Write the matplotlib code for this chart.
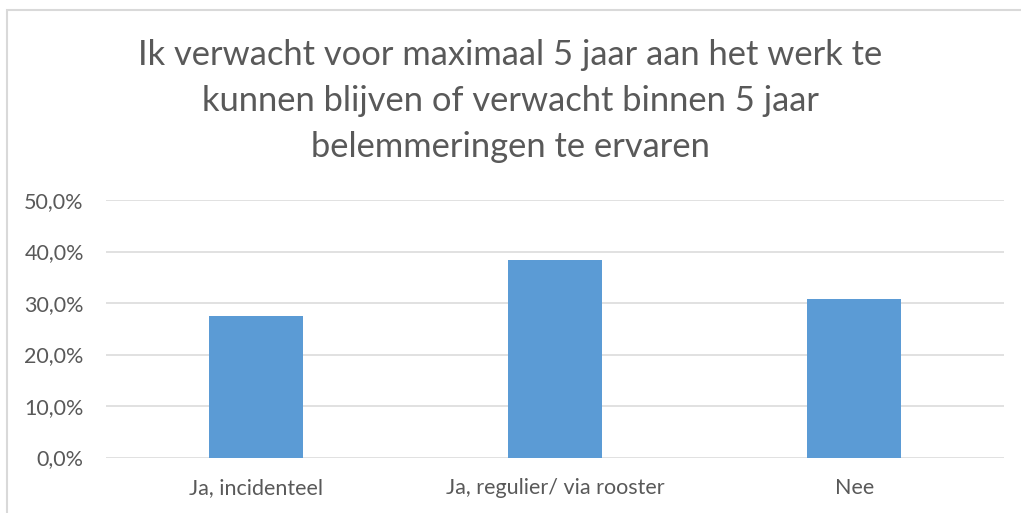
import matplotlib.pyplot as plt
from matplotlib.patches import Rectangle
from matplotlib.ticker import FuncFormatter

categories = ["Ja, incidenteel", "Ja, regulier/ via rooster", "Nee"]
values = [0.274, 0.383, 0.307]
yticks = [0.0, 0.1, 0.2, 0.3, 0.4, 0.5]
title = ("Ik verwacht voor maximaal 5 jaar aan het werk te\n"
         "kunnen blijven of verwacht binnen 5 jaar\n"
         "belemmeringen te ervaren")

plt.rcParams['font.family'] = ['Lato', 'DejaVu Sans']

W, H = 1021, 513
fig = plt.figure(figsize=(W / 100, H / 100), dpi=100)

# chart border (left and top visible)
fig.patches.append(Rectangle((7 / W, -0.1), 1.2, 1 - 10 / H + 0.1, transform=fig.transFigure,
                             fill=False, edgecolor='#D9D9D9', linewidth=1.5))

ax = fig.add_axes([106 / W, 1 - 457.5 / H, (1004 - 106) / W, (457.5 - 200) / H])
x = range(len(categories))
ax.bar(x, values, width=0.315, color='#5B9BD5', zorder=3)
ax.set_xlim(-0.5, len(categories) - 0.5)
ax.set_ylim(0, 0.5)
ax.set_yticks(yticks)
ax.yaxis.set_major_formatter(FuncFormatter(lambda v, p: f"{v * 100:.1f}%".replace('.', ',')))
ax.set_xticks(list(x))
ax.set_xticklabels(categories)
ax.grid(axis='y', color='#D9D9D9', linewidth=1.1, zorder=0)
for s in ax.spines.values():
    s.set_visible(False)
ax.tick_params(length=0, labelsize=15.5, colors='#595959')
ax.tick_params(axis='y', pad=16)
ax.tick_params(axis='x', pad=15)

fig.text(0.5, 1 - 101 / H, title, ha='center', va='center', fontsize=24.8,
         color='#595959', linespacing=1.52)

fig.savefig("out.png", dpi=100)
